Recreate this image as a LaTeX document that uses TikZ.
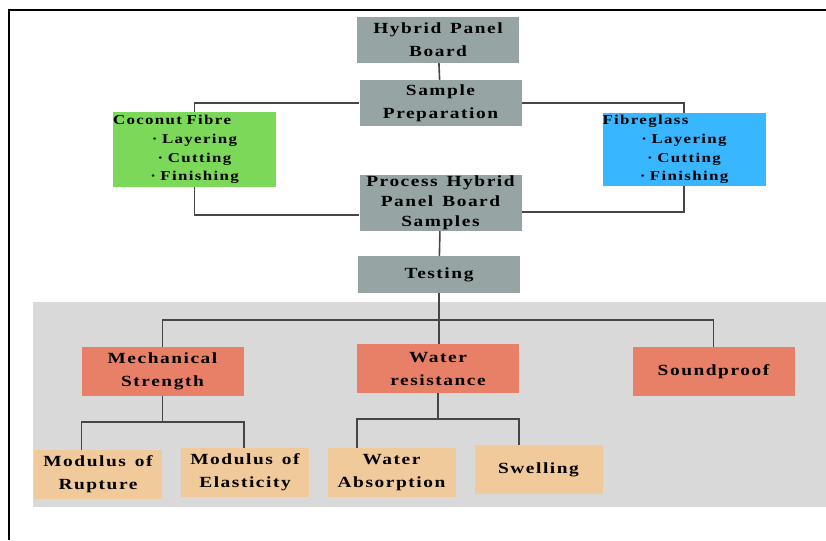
\documentclass[tikz,border=0pt]{standalone}
\usepackage{fontspec}
\setmainfont{Liberation Serif}[LetterSpace=10, FakeStretch=1.25, WordSpace=1.4]
\usepackage{xcolor}
\usetikzlibrary{calc, positioning}

\definecolor{boxgray}{RGB}{150,165,164}
\definecolor{cocogreen}{RGB}{124,216,88}
\definecolor{glassblue}{RGB}{56,182,255}
\definecolor{testred}{RGB}{232,128,104}
\definecolor{subtan}{RGB}{240,202,154}
\definecolor{bggray}{RGB}{217,217,217}
\definecolor{linegray}{RGB}{70,70,70}

\begin{document}
\begin{tikzpicture}[x=1pt,y=-1pt,
    box/.style={minimum width=162pt, minimum height=46pt, inner sep=0pt,
        align=center, font=\bfseries\fontsize{15.5}{23}\selectfont},
    grey/.style={box, fill=boxgray},
    redbox/.style={box, fill=testred, minimum height=49pt},
    tanbox/.style={box, fill=subtan, minimum width=128pt, minimum height=49pt},
    listbox/.style={box, text width=163pt, minimum height=74pt,
        font=\bfseries\fontsize{13.5}{18.7}\selectfont},
    link/.style={draw=linegray, line width=1.6pt}]

    \useasboundingbox (0,0) rectangle (826,540);

    % 外框
    \draw[line width=2pt] (9,540) -- (9,10) -- (826,10);

    % 测试部分背景
    \fill[bggray] (33,302) rectangle (826,507);

    % 上半部分
    \node[grey] (hpb) at (438,40) {Hybrid Panel\\Board};
    \node[grey] (prep) at (440.5,103) {Sample\\Preparation};
    \node[listbox, fill=cocogreen] (coco) at (194.5,149.5)
        {Coconut Fibre\hfill\null\\· Layering\\· Cutting\\· Finishing};
    \node[listbox, fill=glassblue, minimum height=72pt] (glass) at (684,149.5)
        {Fibreglass\hfill\null\\· Layering\\· Cutting\\· Finishing};
    \node[grey, minimum height=56pt, font=\bfseries\fontsize{15.5}{20}\selectfont]
        (proc) at (440.5,203) {Process Hybrid\\Panel Board\\Samples};
    \node[grey, minimum height=37pt] (test) at (439,274.5) {Testing};

    % 测试项目
    \node[redbox] (mech) at (162.5,371.5) {Mechanical\\Strength};
    \node[redbox] (water) at (438,368.5) {Water\\resistance};
    \node[redbox] (sound) at (713.5,371.5) {Soundproof};

    \node[tanbox] (rup) at (98,474.5) {Modulus of\\Rupture};
    \node[tanbox] (elas) at (245,472.5) {Modulus of\\Elasticity};
    \node[tanbox] (abs) at (391.5,472.5) {Water\\Absorption};
    \node[tanbox] (swell) at (538.5,469.5) {Swelling};

    % 连线
    \draw[link] (hpb) -- (prep);
    \draw[link] (prep.west) -| (coco.north);
    \draw[link] (prep.east) -| (glass.north);
    \draw[link] (coco.south) |- ([yshift=-12pt]proc.west);
    \draw[link] (glass.south) |- ([yshift=-9pt]proc.east);
    \draw[link] (proc) -- (test);
    \draw[link] (test.south) -- (test.south |- water.north);
    \draw[link] (mech.north) -- ++(0,-27) -| (sound.north);

    \coordinate (mj) at ($(mech.south)+(0,26)$);
    \draw[link] (mech.south) -- (mj);
    \draw[link] (rup.north -| mech.west) |- (mj) -| (elas.north -| mech.east);

    \coordinate (wj) at ($(water.south)+(0,26)$);
    \draw[link] (water.south) -- (wj);
    \draw[link] (abs.north -| water.west) |- (wj) -| (swell.north -| water.east);

\end{tikzpicture}
\end{document}
